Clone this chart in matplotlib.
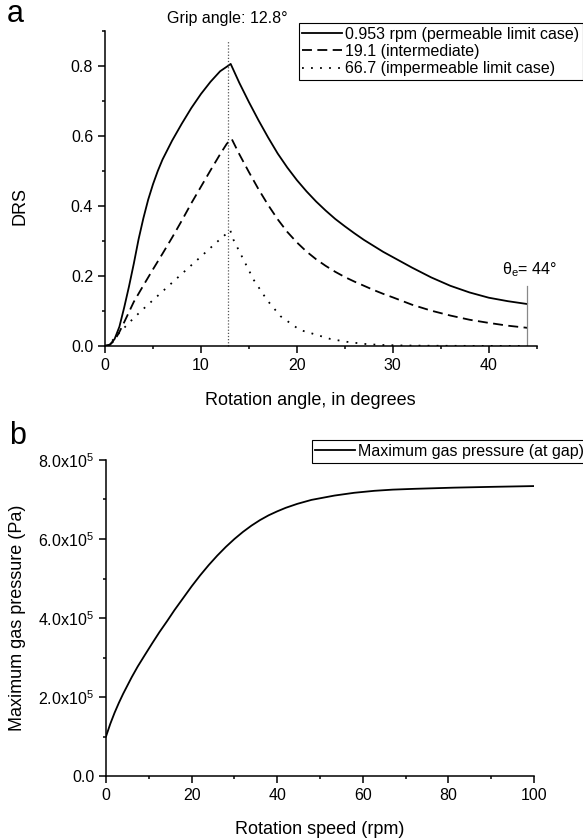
import matplotlib
matplotlib.use("Agg")
import matplotlib.pyplot as plt
from matplotlib.ticker import MultipleLocator, FuncFormatter

plt.rcParams.update({
    "font.family": ["Liberation Sans", "DejaVu Sans"],
    "font.size": 11.5,
    "axes.linewidth": 1.1,
    "xtick.direction": "out",
    "ytick.direction": "out",
    "xtick.major.size": 5, "ytick.major.size": 5,
    "xtick.minor.size": 2.5, "ytick.minor.size": 2.5,
    "xtick.major.width": 1.1, "ytick.major.width": 1.1,
    "xtick.minor.width": 1.1, "ytick.minor.width": 1.1,
    "xtick.labelsize": 11.5, "ytick.labelsize": 11.5,
})

# ---- panel a: DRS vs rotation angle ----
solid_x = [0, 0.5, 1, 1.5, 2, 2.5, 3, 3.5, 4, 4.5, 5, 5.5, 6, 7, 8, 9, 10, 11, 12, 12.8, 13.1,
           14, 15, 16, 17, 18, 19, 20, 21, 22, 23, 24, 25, 26, 27, 28, 29, 30, 32, 34, 36,
           38, 40, 42, 44]
solid_y = [0, 0.003, 0.02, 0.055, 0.11, 0.17, 0.235, 0.305, 0.365, 0.418, 0.462, 0.50,
           0.533, 0.587, 0.635, 0.68, 0.72, 0.755, 0.785, 0.80, 0.806,
           0.752, 0.697, 0.645, 0.596, 0.55, 0.51, 0.474, 0.442, 0.413, 0.387, 0.363,
           0.342, 0.322, 0.303, 0.286, 0.269, 0.254, 0.224, 0.196, 0.172, 0.153, 0.138,
           0.128, 0.12]

dash_x = [0, 0.5, 1, 1.5, 2, 2.5, 3, 4, 5, 6, 7, 8, 9, 10, 11, 12, 12.7, 13.2,
          14, 15, 16, 17, 18, 19, 20, 21, 22, 23, 24, 25, 26, 27, 28, 29, 30, 32, 34,
          36, 38, 40, 42, 44]
dash_y = [0, 0.004, 0.016, 0.04, 0.068, 0.097, 0.126, 0.173, 0.219, 0.264, 0.31, 0.358,
          0.408, 0.455, 0.502, 0.548, 0.578, 0.592,
          0.548, 0.497, 0.448, 0.403, 0.362, 0.326, 0.296, 0.27, 0.248, 0.229, 0.212,
          0.197, 0.184, 0.172, 0.16, 0.149, 0.139, 0.118, 0.101, 0.087, 0.075, 0.066,
          0.058, 0.052]

dot_x = [0, 0.5, 1, 1.5, 2, 2.5, 3, 4, 5, 6.4, 8, 9.9, 11.5, 12.7, 13.05,
         13.4, 14.1, 15.5, 16.9, 18.3, 20.3, 21.8, 23.5, 25.2, 27, 28.7, 31, 34, 38, 44]
dot_y = [0, 0.008, 0.022, 0.038, 0.052, 0.066, 0.08, 0.106, 0.131, 0.166, 0.206, 0.253,
         0.293, 0.322, 0.331,
         0.303, 0.265, 0.189, 0.131, 0.085, 0.046, 0.034, 0.02, 0.012, 0.006, 0.003,
         0.0015, 0.0007, 0.0003, 0.0001]

labels_a = ["0.953 rpm (permeable limit case)", "19.1 (intermediate)",
            "66.7 (impermeable limit case)"]
grip_angle = 12.8
theta_e = 44
theta_line_top = 0.17

# ---- panel b: max gas pressure vs rotation speed ----
speed = [0, 1, 2, 3, 4, 5, 6, 7.4, 9, 10.8, 12.5, 14.3, 16, 17.8, 20, 22, 24, 26, 28,
         30, 32, 34, 36, 38, 40, 42, 44.7, 48, 53.4, 58, 62.7, 67, 72, 81.3, 90, 100]
pressure = [1.0e5, 1.32e5, 1.6e5, 1.85e5, 2.08e5, 2.29e5, 2.5e5, 2.77e5, 3.05e5, 3.36e5,
            3.645e5, 3.925e5, 4.2e5, 4.47e5, 4.8e5, 5.08e5, 5.34e5, 5.58e5, 5.8e5,
            6.0e5, 6.18e5, 6.34e5, 6.48e5, 6.6e5, 6.7e5, 6.79e5, 6.89e5, 6.99e5, 7.1e5,
            7.17e5, 7.22e5, 7.25e5, 7.27e5, 7.3e5, 7.32e5, 7.34e5]

W, H = 583, 838
fig = plt.figure(figsize=(W / 100, H / 100), dpi=100)
axA = fig.add_axes([105 / W, 1 - 346 / H, (536.7 - 105) / W, (346 - 31) / H])
axB = fig.add_axes([106 / W, 1 - 776 / H, (534 - 106) / W, (776 - 460) / H])

for ax in (axA, axB):
    ax.spines["top"].set_visible(False)
    ax.spines["right"].set_visible(False)
    ax.tick_params(which="both", pad=3.5)

# panel a
l1, = axA.plot(solid_x, solid_y, color="black", lw=1.3, ls="-")
l2, = axA.plot(dash_x, dash_y, color="black", lw=1.3, ls=(0, (5.5, 3)))
l3, = axA.plot(dot_x, dot_y, color="black", lw=1.3, ls=(0, (1, 4)))
axA.plot([grip_angle, grip_angle], [0, 0.874], color="#555555", lw=0.9,
         ls=(0, (1, 1.5)), clip_on=False)
axA.plot([theta_e, theta_e], [0, theta_line_top], color="#888888", lw=0.9)
axA.text(grip_angle, 0.937, f"Grip angle: {grip_angle}°", ha="center", va="center",
         fontsize=11.5, clip_on=False)
axA.text(41.4, 0.218, r"$\mathregular{\theta_{e}}$= 44°", ha="left", va="center",
         fontsize=11.5)
axA.set_xlim(0, 45)
axA.set_ylim(0, 0.9)
axA.xaxis.set_major_locator(MultipleLocator(10))
axA.xaxis.set_minor_locator(MultipleLocator(5))
axA.yaxis.set_major_locator(MultipleLocator(0.2))
axA.yaxis.set_minor_locator(MultipleLocator(0.1))
axA.yaxis.set_major_formatter(FuncFormatter(lambda v, p: f"{v:.1f}"))
axA.set_xlabel("Rotation angle, in degrees", fontsize=13)
axA.set_ylabel("DRS", fontsize=13, va="center")
axA.xaxis.set_label_coords(0.476, -0.146)
axA.yaxis.set_label_coords(-0.196, 0.445)
axA.legend([l1, l2, l3], labels_a, loc="upper left",
           bbox_to_anchor=(298.5 / W, 1 - 22.7 / H), bbox_transform=fig.transFigure,
           fancybox=False, edgecolor="black", framealpha=1, fontsize=11.5,
           borderpad=0.25, labelspacing=0.15, handlelength=2.5, handletextpad=0.15,
           borderaxespad=0).get_frame().set_linewidth(0.8)

# panel b
lb, = axB.plot(speed, pressure, color="black", lw=1.3)
axB.set_xlim(0, 100)
axB.set_ylim(0, 8e5)
axB.xaxis.set_major_locator(MultipleLocator(20))
axB.xaxis.set_minor_locator(MultipleLocator(10))
axB.yaxis.set_major_locator(MultipleLocator(2e5))
axB.yaxis.set_minor_locator(MultipleLocator(1e5))


def sci(v, p):
    if abs(v) < 1:
        return "0.0"
    return r"$\mathregular{%.1fx10^{5}}$" % (v / 1e5)


axB.yaxis.set_major_formatter(FuncFormatter(sci))
axB.set_xlabel("Rotation speed (rpm)", fontsize=13)
axB.set_ylabel("Maximum gas pressure (Pa)", fontsize=13, va="center")
axB.xaxis.set_label_coords(0.5, -0.142)
axB.yaxis.set_label_coords(-0.207, 0.5)
axB.legend([lb], ["Maximum gas pressure (at gap)"], loc="lower left",
           bbox_to_anchor=(311.5 / W, 1 - 462.7 / H), bbox_transform=fig.transFigure,
           fancybox=False, edgecolor="black", framealpha=1, fontsize=11.5,
           borderpad=0.25, handlelength=2.5, handletextpad=0.15,
           borderaxespad=0).get_frame().set_linewidth(0.8)

fig.text(7 / W, 1 - 22 / H, "a", fontsize=22, va="baseline", ha="left")
fig.text(9 / W, 1 - 444 / H, "b", fontsize=22, va="baseline", ha="left")

fig.savefig("out.png", dpi=100, facecolor="white")
